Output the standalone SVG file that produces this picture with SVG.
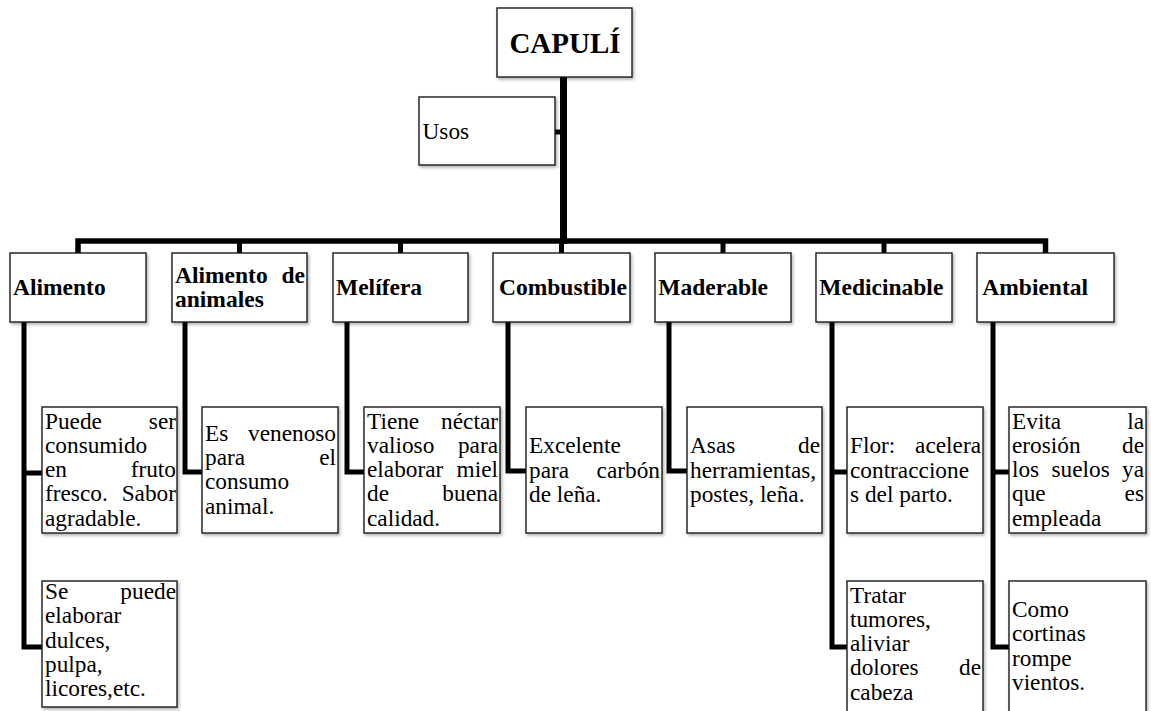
<svg xmlns="http://www.w3.org/2000/svg" width="1151" height="711" viewBox="0 0 1151 711">
<defs>
<filter id="sh" x="-10%" y="-10%" width="125%" height="130%">
<feDropShadow dx="1.5" dy="2" stdDeviation="1.5" flood-color="#000" flood-opacity="0.3"/>
</filter>
</defs>
<style>
rect.b{fill:#fff;stroke:#1a1a1a;stroke-width:1.4;filter:url(#sh)}
text{font-family:"Liberation Serif","Times New Roman",serif;font-size:23.3px;fill:#000}
text.h{font-weight:bold;font-size:23.5px}
text.t{font-weight:bold;font-size:29px}
text.e{text-anchor:end}
#connectors path,#connectors line{fill:none;stroke:#000;stroke-linejoin:miter}
</style>
<rect width="1151" height="711" fill="#fff"/>
<g id="connectors">
<line x1="563.5" y1="76" x2="563.5" y2="244" stroke-width="7"/>
<line x1="555" y1="132" x2="562" y2="132" stroke-width="5"/>
<path d="M78,253 V241 H1045.5 V253" stroke-width="5.5"/>
<line x1="239.5" y1="241" x2="239.5" y2="253" stroke-width="5"/>
<line x1="400.5" y1="241" x2="400.5" y2="253" stroke-width="5"/>
<line x1="561.5" y1="241" x2="561.5" y2="253" stroke-width="5"/>
<line x1="723" y1="241" x2="723" y2="253" stroke-width="5"/>
<line x1="884" y1="241" x2="884" y2="253" stroke-width="5"/>
<path d="M24,322 V647 H42 M24,473 H42" stroke-width="5"/>
<path d="M185,322 V472 H202" stroke-width="5"/>
<path d="M347,322 V472 H364" stroke-width="5"/>
<path d="M508,322 V471 H526" stroke-width="5"/>
<path d="M669,322 V471 H687" stroke-width="5"/>
<path d="M832,322 V647 H847 M832,472 H847" stroke-width="5"/>
<path d="M993,322 V647 H1009 M993,472 H1009" stroke-width="5"/>
</g>
<g id="capuli">
<rect class="b" x="497" y="8" width="135" height="69"/>
<text class="t" x="565" y="53" text-anchor="middle">CAPULÍ</text>
</g>
<g id="usos">
<rect class="b" x="419" y="97" width="136" height="68"/>
<text x="422.5" y="139">Usos</text>
</g>
<g id="alimento">
<rect class="b" x="10" y="253" width="136" height="69"/>
<text class="h" x="13" y="294.5">Alimento</text>
</g>
<g id="alimento-animales">
<rect class="b" x="172" y="253" width="135" height="69"/>
<text class="h" x="175" y="283">Alimento</text>
<text class="h e" x="305" y="283">de</text>
<text class="h" x="175" y="307.3">animales</text>
</g>
<g id="melifera">
<rect class="b" x="333" y="253" width="135" height="69"/>
<text class="h" x="336" y="294.5">Melífera</text>
</g>
<g id="combustible">
<rect class="b" x="493" y="253" width="137" height="69"/>
<text class="h" x="499" y="294.5">Combustible</text>
</g>
<g id="maderable">
<rect class="b" x="655" y="253" width="136" height="69"/>
<text class="h" x="658.3" y="294.5">Maderable</text>
</g>
<g id="medicinable">
<rect class="b" x="816" y="253" width="136" height="69"/>
<text class="h" x="819.3" y="294.5">Medicinable</text>
</g>
<g id="ambiental">
<rect class="b" x="977" y="253" width="137" height="69"/>
<text class="h" x="982.3" y="294.5">Ambiental</text>
</g>
<g id="alimento-1">
<rect class="b" x="42" y="407" width="135" height="126"/>
<text x="45" y="428.5">Puede</text><text class="e" x="176" y="428.5">ser</text>
<text x="45" y="452.8">consumido</text>
<text x="45" y="477.1">en</text><text class="e" x="176" y="477.1">fruto</text>
<text x="45" y="501.4">fresco.</text><text class="e" x="176" y="501.4">Sabor</text>
<text x="45" y="525.7">agradable.</text>
</g>
<g id="alimento-2">
<rect class="b" x="42" y="581" width="135" height="126"/>
<text x="45" y="599">Se</text><text class="e" x="176" y="599">puede</text>
<text x="45" y="623.3">elaborar</text>
<text x="45" y="647.6">dulces,</text>
<text x="45" y="671.9">pulpa,</text>
<text x="45" y="696.2">licores,etc.</text>
</g>
<g id="animales-1">
<rect class="b" x="202" y="407" width="136" height="126"/>
<text x="205" y="440.7">Es</text><text class="e" x="336" y="440.7">venenoso</text>
<text x="205" y="465">para</text><text class="e" x="336" y="465">el</text>
<text x="205" y="489.3">consumo</text>
<text x="205" y="513.6">animal.</text>
</g>
<g id="melifera-1">
<rect class="b" x="364" y="407" width="136" height="126"/>
<text x="367" y="428.5">Tiene</text><text class="e" x="498" y="428.5">néctar</text>
<text x="367" y="452.8">valioso</text><text class="e" x="498" y="452.8">para</text>
<text x="367" y="477.1">elaborar</text><text class="e" x="498" y="477.1">miel</text>
<text x="367" y="501.4">de</text><text class="e" x="498" y="501.4">buena</text>
<text x="367" y="525.7">calidad.</text>
</g>
<g id="combustible-1">
<rect class="b" x="526" y="407" width="136" height="126"/>
<text x="529" y="453.3">Excelente</text>
<text x="529" y="477.8">para</text><text class="e" x="660" y="477.8">carbón</text>
<text x="529" y="502.3">de leña.</text>
</g>
<g id="maderable-1">
<rect class="b" x="687" y="407" width="135" height="126"/>
<text x="690" y="453.3">Asas</text><text class="e" x="820" y="453.3">de</text>
<text x="690" y="477.8">herramientas,</text>
<text x="690" y="502.3">postes, leña.</text>
</g>
<g id="medicinable-1">
<rect class="b" x="847" y="407" width="136" height="126"/>
<text x="850" y="453.3">Flor:</text><text class="e" x="981" y="453.3">acelera</text>
<text x="850" y="477.8">contraccione</text>
<text x="850" y="502.3">s del parto.</text>
</g>
<g id="medicinable-2">
<rect class="b" x="847" y="581" width="136" height="140"/>
<text x="850" y="602.5">Tratar</text>
<text x="850" y="626.8">tumores,</text>
<text x="850" y="651.1">aliviar</text>
<text x="850" y="675.4">dolores</text><text class="e" x="981" y="675.4">de</text>
<text x="850" y="699.7">cabeza</text>
</g>
<g id="ambiental-1">
<rect class="b" x="1009" y="407" width="137" height="126"/>
<text x="1012" y="428.5">Evita</text><text class="e" x="1144" y="428.5">la</text>
<text x="1012" y="452.8">erosión</text><text class="e" x="1144" y="452.8">de</text>
<text x="1012" y="477.1">los</text><text x="1051.5" y="477.1">suelos</text><text class="e" x="1144" y="477.1">ya</text>
<text x="1012" y="501.4">que</text><text class="e" x="1144" y="501.4">es</text>
<text x="1012" y="525.7">empleada</text>
</g>
<g id="ambiental-2">
<rect class="b" x="1009" y="581" width="137" height="140"/>
<text x="1012" y="617">Como</text>
<text x="1012" y="641.3">cortinas</text>
<text x="1012" y="665.6">rompe</text>
<text x="1012" y="690">vientos.</text>
</g>
</svg>
